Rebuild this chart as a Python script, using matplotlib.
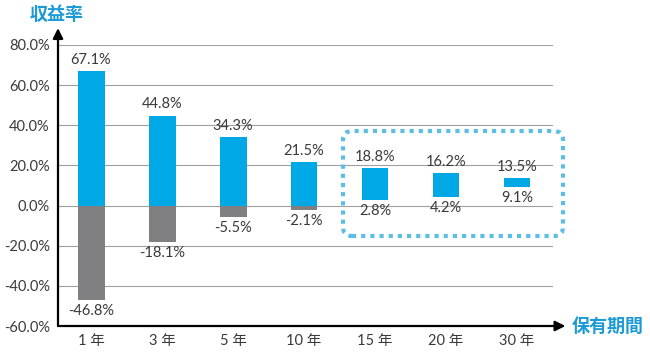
import matplotlib
matplotlib.use("Agg")
import matplotlib.pyplot as plt
from matplotlib.patches import FancyBboxPatch
from matplotlib.transforms import IdentityTransform

plt.rcParams['font.family'] = ['Lato', 'Noto Sans CJK JP', 'DejaVu Sans']

categories = ["1 年", "3 年", "5 年", "10 年", "15 年", "20 年", "30 年"]
max_returns = [67.1, 44.8, 34.3, 21.5, 18.8, 16.2, 13.5]
min_returns = [-46.8, -18.1, -5.5, -2.1, 2.8, 4.2, 9.1]
yticks = [-60, -40, -20, 0, 20, 40, 60, 80]

blue = "#00a8e6"
gray = "#808082"
text_c = "#3a3a3a"
title_c = "#1c9ad6"
fs = 10.5

fig = plt.figure(figsize=(6.5, 3.57), dpi=100)
ax = fig.add_axes([58/650, 31/357, (553-58)/650, (326-45)/357])

x = list(range(len(categories)))
w = 0.38
for i in x:
    hi = max_returns[i]
    lo = min_returns[i]
    base = max(lo, 0)
    ax.bar(i, hi - base, bottom=base, width=w, color=blue, zorder=3)
    if lo < 0:
        ax.bar(i, lo, bottom=0, width=w, color=gray, zorder=3)
    ax.annotate(f"{hi:.1f}%", (i, hi), xytext=(0, 3), textcoords="offset points",
                ha="center", va="bottom", fontsize=fs, color=text_c, zorder=5)
    ax.annotate(f"{lo:.1f}%", (i, lo), xytext=(0, -3), textcoords="offset points",
                ha="center", va="top", fontsize=fs, color=text_c, zorder=5)

ax.set_xlim(-0.465, 6.507)
ax.set_ylim(-60, 80)
ax.set_yticks(yticks)
ax.set_yticklabels([f"{v:.1f}%" for v in yticks], fontsize=fs, color=text_c)
ax.set_xticks(x)
ax.set_xticklabels(categories, fontsize=fs, color=text_c)
ax.tick_params(length=0, pad=6)
for s in ax.spines.values():
    s.set_visible(False)
for v in yticks[1:]:
    ax.axhline(v, color="#a0a0a0", lw=0.8, zorder=1)

# axis arrows
ax.annotate("", xy=(0, 1.06), xytext=(0, 0), xycoords="axes fraction",
            arrowprops=dict(arrowstyle="-|>,head_length=0.6,head_width=0.3", color="black", lw=1.6,
                            shrinkA=0, shrinkB=0), annotation_clip=False)
ax.annotate("", xy=(1.025, 0), xytext=(0, 0), xycoords="axes fraction",
            arrowprops=dict(arrowstyle="-|>,head_length=0.6,head_width=0.3", color="black", lw=1.6,
                            shrinkA=0, shrinkB=0), annotation_clip=False)

fig.text(57/650, 1 - 15/357, "収益率", color=title_c, fontsize=13, fontweight="bold",
         ha="center", va="center", family=['Noto Sans CJK JP'])
fig.text(608/650, 1 - 326/357, "保有期間", color=title_c, fontsize=13, fontweight="bold",
         ha="center", va="center", family=['Noto Sans CJK JP'])

box = FancyBboxPatch((343, 357 - 236), 220, 105, boxstyle="round,pad=0,rounding_size=9",
                     transform=IdentityTransform(), fill=False, edgecolor="#5cbde6",
                     lw=3, linestyle=(0, (1, 1.2)), capstyle="butt")
fig.add_artist(box)

fig.savefig("out.png", dpi=100)
